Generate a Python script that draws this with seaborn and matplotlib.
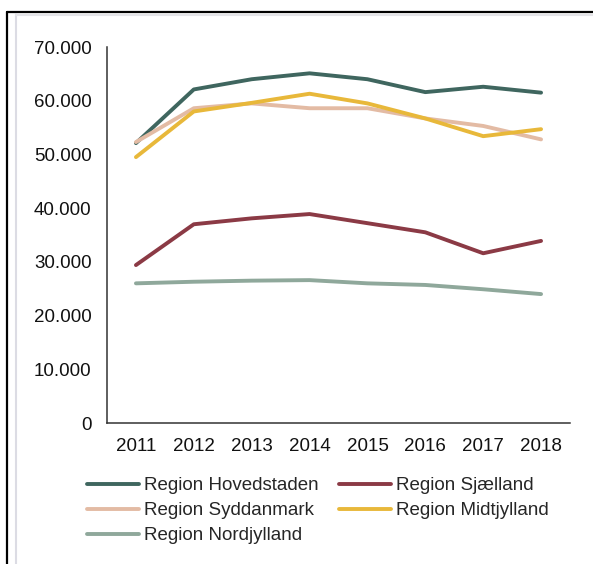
import pandas as pd
import seaborn as sns
import matplotlib
matplotlib.use("Agg")
import matplotlib.pyplot as plt
from matplotlib.lines import Line2D
from matplotlib.ticker import FuncFormatter

years = ["2011", "2012", "2013", "2014", "2015", "2016", "2017", "2018"]
hovedstaden = [52100, 62100, 64000, 65100, 64000, 61600, 62600, 61500]
sjaelland = [29400, 37000, 38100, 38900, 37200, 35500, 31600, 33900]
syddanmark = [52300, 58600, 59500, 58600, 58600, 56700, 55300, 52800]
midtjylland = [49500, 58000, 59600, 61300, 59500, 56700, 53400, 54700]
nordjylland = [26000, 26300, 26500, 26600, 26000, 25700, 24900, 24000]

regions = ["Region Hovedstaden", "Region Sjælland", "Region Syddanmark",
           "Region Midtjylland", "Region Nordjylland"]
series = [hovedstaden, sjaelland, syddanmark, midtjylland, nordjylland]
colors = ["#3f665f", "#8b3a45", "#e3bba4", "#e8b83a", "#8fa89b"]

df = pd.concat(
    [pd.DataFrame({"year": years, "value": vals, "region": name})
     for name, vals in zip(regions, series)],
    ignore_index=True,
)

sns.set_style("white")
plt.rcParams["font.family"] = ["Liberation Sans", "DejaVu Sans"]

fig = plt.figure(figsize=(5.93, 5.64), dpi=100)
ax = fig.add_axes([107 / 593, 1 - 423 / 564, (570 - 107) / 593, (423 - 47) / 564])

sns.lineplot(data=df, x="year", y="value", hue="region", hue_order=regions,
             palette=colors, linewidth=2.8, ax=ax, sort=False)

ax.set_xlim(-0.5, 7.5)
ax.set_ylim(0, 70000)
ax.set_yticks(range(0, 70001, 10000))
ax.yaxis.set_major_formatter(
    FuncFormatter(lambda v, p: "0" if v == 0 else f"{int(v):,}".replace(",", ".")))
ax.set_xlabel("")
ax.set_ylabel("")
ax.tick_params(axis="both", length=0, labelsize=13.5, colors="#111111")
ax.tick_params(axis="y", pad=11)
ax.tick_params(axis="x", pad=11)
for s in ["top", "right"]:
    ax.spines[s].set_visible(False)
for s in ["left", "bottom"]:
    ax.spines[s].set_color("#333333")
    ax.spines[s].set_linewidth(1.1)

handles, labels = ax.get_legend_handles_labels()
lookup = dict(zip(labels, handles))
order = ["Region Hovedstaden", "Region Syddanmark", "Region Nordjylland",
         "Region Sjælland", "Region Midtjylland"]
ax.legend([lookup[o] for o in order], order, ncol=2, frameon=False,
          loc="upper left", bbox_to_anchor=(87 / 593, 1 - 477 / 564),
          bbox_transform=fig.transFigure, fontsize=13.5, handlelength=2.75,
          handletextpad=0.28, columnspacing=1.1, labelspacing=0.42,
          borderpad=0, borderaxespad=0)

# frame lines around the chart
fig.add_artist(Line2D([7 / 593, 7 / 593], [0, 1 - 12 / 564], color="black", lw=1.6,
                      transform=fig.transFigure))
fig.add_artist(Line2D([7 / 593, 1], [1 - 12 / 564, 1 - 12 / 564], color="black", lw=1.6,
                      transform=fig.transFigure))
fig.add_artist(Line2D([16 / 593, 16 / 593], [0, 1 - 14 / 564], color="#dcdce4", lw=1.5,
                      transform=fig.transFigure))
fig.add_artist(Line2D([16 / 593, 1], [1 - 14.5 / 564, 1 - 14.5 / 564], color="#e4e4e8",
                      lw=1.5, transform=fig.transFigure))

fig.savefig("out.png", dpi=100)
